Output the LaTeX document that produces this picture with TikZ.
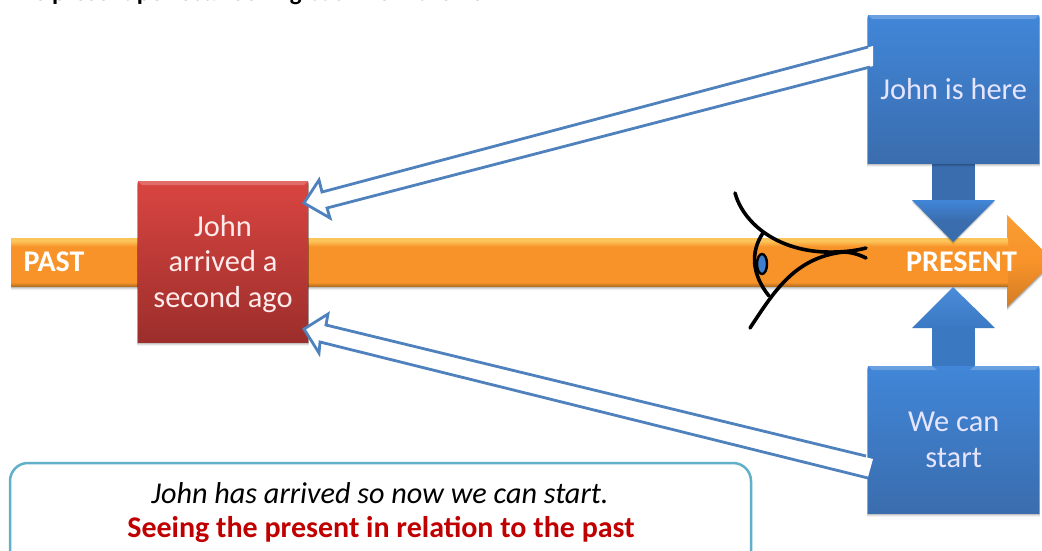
\documentclass[tikz,border=0pt]{standalone}
\usepackage{fontspec}
\setmainfont{Carlito}
\usetikzlibrary{calc,shapes.geometric}
\definecolor{orangemain}{HTML}{F8932A}
\definecolor{orangelight}{HTML}{FCC55A}
\definecolor{orangedark}{HTML}{B8711F}
\definecolor{hollowblue}{HTML}{4F81BD}
\definecolor{tealframe}{HTML}{5FB0C8}
\definecolor{redtext}{HTML}{C00000}
\definecolor{eyeblue}{HTML}{3F7FCF}
\pgfdeclareverticalshading{shaftshade}{100bp}{
  color(0bp)=(orangedark); color(25bp)=(orangedark); color(29bp)=(orangemain); color(66bp)=(orangemain);
  color(72bp)=(orangelight); color(75bp)=(orangelight); color(100bp)=(orangelight)}
\pgfdeclareverticalshading{headshade}{100bp}{
  color(0bp)=(orangemain!85!black); color(25bp)=(orangemain!85!black); color(50bp)=(orangemain); color(75bp)=(orangemain!80!orangelight); color(100bp)=(orangelight)}
\definecolor{redtop}{HTML}{D94541}
\definecolor{redbot}{HTML}{9C2E2B}
\definecolor{bluetop}{HTML}{4186D8}
\definecolor{bluebot}{HTML}{3A6DAE}
\tikzset{
  softshadow/.style={fill=black,fill opacity=#1,draw=none},
  redbox/.style={inner sep=0pt,minimum width=170pt,minimum height=161pt,
    top color=redtop,bottom color=redbot},
  redlabel/.style={inner sep=0pt,align=center,text=white!92!red,font=\fontsize{30.4}{36}\selectfont},
  bluebox/.style={inner sep=0pt,minimum width=170pt,minimum height=148pt,align=center,
    top color=bluetop,bottom color=bluebot,text=white!90!blue,font=\fontsize{30.4}{36}\selectfont},
  barlabel/.style={inner sep=0pt,text=white,font=\bfseries\fontsize{30}{34}\selectfont},
  hollowline/.style={draw=hollowblue,line width=2.8pt,line join=miter},
  eyeline/.style={draw=black,line width=3.6pt,line cap=round},
}
\newcommand{\softbox}[4]{%
  \foreach \o/\a in {1/0.16,2/0.12,3/0.08,4/0.05}{
    \fill[softshadow=\a] (#1-1,#2+\o) rectangle (#3+1,#4+\o);}}
\begin{document}
\begin{tikzpicture}[x=1pt,y=-1pt]
\useasboundingbox (0,0) rectangle (1042,550);
\begin{scope}
\clip (0,0) rectangle (1042,550);
\fill[white] (0,0) rectangle (1042,550);

% clipped heading
\node[anchor=base west,inner sep=0pt,font=\bfseries\fontsize{25}{28}\selectfont] (heading) at (8,0) {The present perfect: looking back from the now};

% time arrow
\foreach \o/\a in {1/0.16,2/0.12,3/0.08,4/0.05}{
  \fill[softshadow=\a] (11,238+\o) -- (1007,238+\o) -- (1007,215+\o) -- (1054,261+\o) -- (1007,307+\o) -- (1007,286+\o) -- (11,286+\o) -- cycle;}
\shade[shading=headshade] (1007,215) -- (1054,261) -- (1007,307) -- cycle;
\shade[shading=shaftshade] (11,238) rectangle (1008,286);
\node[barlabel,anchor=center] (past) at (54,262) {PAST};
\node[barlabel,anchor=center] (present) at (961.5,262) {PRESENT};

% eye
\draw[eyeline] (735,193) .. controls (743,222) and (775,250) .. (825,252) .. controls (840,252.5) and (855,251) .. (866,248);
\draw[eyeline] (750,328) .. controls (775,290) and (795,258) .. (843,252) .. controls (850,252) and (858,254) .. (866,258);
\draw[eyeline] (763,233) .. controls (750,252) and (752,275) .. (769,296);
\node[ellipse,draw=black,line width=2.4pt,fill=eyeblue,minimum width=10pt,minimum height=20pt,inner sep=0pt] (iris) at (762,264) {};

% red box
\softbox{138}{181}{308}{342}
\node[redbox,anchor=north west] (red) at (138,181) {};
\node[redlabel] (redtxt) at (223,264) {John\\[-0.5pt]arrived a\\[-0.5pt]second ago};
\fill[white,fill opacity=0.22] (138,181) -- (308,181) -- (304,185) -- (142,185) -- cycle;

% blue arrows
\foreach \o/\a in {1/0.14,2/0.08,3/0.04}{
  \fill[softshadow=\a] (912,200+\o) -- (953,242+\o) -- (995,200+\o) -- cycle;}
\fill[bluebot] (932,160) rectangle (975,202);
\shade[top color=bluetop,bottom color=bluebot,middle color=bluebot] (912,200) -- (995,200) -- (953,242) -- cycle;
\shade[top color=bluetop!95!white,bottom color=bluetop!90!black] (953,287) -- (995,328) -- (912,328) -- cycle;
\fill[bluetop!90!black] (932,326) rectangle (975,370);

% blue boxes
\softbox{868}{15}{1039}{163}
\node[bluebox,anchor=north west,minimum width=171pt] (here) at (868,15) {John is here};
\fill[white,fill opacity=0.22] (868,15) -- (1039,15) -- (1035,19) -- (872,19) -- cycle;
\softbox{868}{366}{1039}{513}
\node[bluebox,anchor=north west,minimum width=171pt,minimum height=147pt] (start) at (868,366) {We can\\[-0.5pt]start};
\fill[white,fill opacity=0.22] (868,366) -- (932,366) -- (937,370) -- (872,370) -- cycle;
\fill[white,fill opacity=0.22] (975,366) -- (1039,366) -- (1035,370) -- (970,370) -- cycle;

% hollow arrows, on top of the boxes
\coordinate (ta) at (868,47);
\coordinate (tb) at (870,67);
\coordinate (tc) at (327,208);
\coordinate (td) at (330,218);
\coordinate (tip1) at (304,203);
\coordinate (te) at (319,180);
\coordinate (tf) at (322,192);
\fill[white] (873,46) -- (tf) -- (te) -- (tip1) -- (td) -- (tc) -- (873,66) -- cycle;
\draw[hollowline] (ta) -- (tf) -- (te) -- (tip1) -- (td) -- (tc) -- (tb);

\coordinate (ba) at (866,456);
\coordinate (bb) at (868,478);
\coordinate (bc) at (320,342);
\coordinate (bd) at (319,353);
\coordinate (tip2) at (304,329);
\coordinate (be) at (328,314);
\coordinate (bf) at (326,325);
\fill[white] (873,459) -- (bf) -- (be) -- (tip2) -- (bd) -- (bc) -- (868,477) -- cycle;
\draw[hollowline] (ba) -- (bf) -- (be) -- (tip2) -- (bd) -- (bc) -- (bb);

% callout
\draw[tealframe,line width=2.5pt,fill=white,rounded corners=18pt] (10,463) rectangle (751,600);
\node[inner sep=0pt,font=\itshape\fontsize{30.2}{32}\selectfont] (line1) at (380,493) {John has arrived so now we can start.};
\node[inner sep=0pt,text=redtext,font=\bfseries\fontsize{30}{32}\selectfont] (line2) at (381,529) {Seeing the present in relation to the past};
\end{scope}
\end{tikzpicture}
\end{document}
